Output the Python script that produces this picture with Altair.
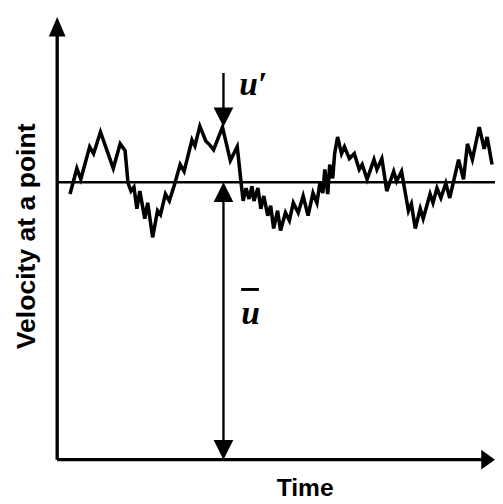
import altair as alt
import pandas as pd

# Fluctuating velocity signal (time, velocity) in arbitrary units
time = [13, 20, 24, 33, 37, 44, 57, 64, 69, 72, 75, 78, 81, 84, 89, 92, 97, 102, 105,
        110, 114, 119, 125, 129, 137, 140, 145, 151, 155, 159, 168, 176, 183, 187, 189,
        192, 195, 198, 200, 204, 207, 210, 214, 217, 220, 224, 227, 232, 236, 240, 245,
        250, 255, 260, 264, 267, 270, 272, 275, 277, 280, 282, 285, 289, 292, 297, 302,
        307, 310, 315, 322, 325, 330, 335, 342, 345, 350, 354, 357, 360, 364, 369, 372,
        379, 382, 386, 390, 395, 399, 408, 413, 417, 422, 429, 434, 437, 442]
velocity = [270, 296, 285, 318, 311, 333, 296, 321, 314, 281, 273, 277, 255, 273, 245,
            261, 226, 253, 249, 270, 263, 279, 300, 293, 325, 319, 339, 324, 320, 315,
            338, 304, 318, 281, 263, 276, 265, 278, 263, 276, 255, 268, 248, 258, 235,
            253, 233, 251, 243, 261, 251, 268, 248, 271, 261, 281, 271, 295, 270, 300,
            286, 311, 328, 311, 318, 306, 311, 295, 300, 285, 305, 295, 306, 273, 293,
            283, 293, 270, 253, 260, 235, 255, 245, 270, 261, 276, 266, 281, 266, 305,
            285, 321, 305, 338, 316, 328, 300]

mean_velocity = 282
time_end = 445
velocity_top = 450
peak_time = 169
peak_velocity = 338

X_DOM = [0, 445]
Y_DOM = [0, 450]

def xs():
    return alt.Scale(domain=X_DOM, nice=False, zero=False)

def ys():
    return alt.Scale(domain=Y_DOM, nice=False, zero=False)

def enc(ch):
    return ch.encode(
        x=alt.X("t:Q", scale=xs(), axis=None),
        y=alt.Y("v:Q", scale=ys(), axis=None),
    )

signal_df = pd.DataFrame({"t": time, "v": velocity})
signal = enc(alt.Chart(signal_df).mark_line(color="black", strokeWidth=3.6, strokeJoin="miter"))

mean_df = pd.DataFrame({"t": [0, time_end], "v": [mean_velocity, mean_velocity]})
mean_line = enc(alt.Chart(mean_df).mark_line(color="black", strokeWidth=2.6))

yaxis_df = pd.DataFrame({"t": [0, 0], "v": [0, 432]})
yaxis = enc(alt.Chart(yaxis_df).mark_line(color="black", strokeWidth=3.4))
xaxis_df = pd.DataFrame({"t": [0, 432], "v": [0, 0]})
xaxis = enc(alt.Chart(xaxis_df).mark_line(color="black", strokeWidth=3.4))

up_tri = "M-0.85,1L0,-1L0.85,1Z"
down_tri = "M-1,-1L0,1L1,-1Z"
up_tri_w = "M-1,1L0,-1L1,1Z"
right_tri = "M-0.4,-1L1,0L-0.4,1Z"

def head(t, v, shape, size=400):
    df = pd.DataFrame({"t": [t], "v": [v]})
    return enc(alt.Chart(df).mark_point(shape=shape, size=size, filled=True,
                                        color="black", opacity=1, strokeWidth=0))

y_head = head(0, velocity_top - 10, up_tri)
x_head = head(time_end - 10, 0, right_tri)

# mean velocity double arrow
ubar_df = pd.DataFrame({"t": [peak_time, peak_time], "v": [mean_velocity - 20, 20]})
ubar_line = enc(alt.Chart(ubar_df).mark_line(color="black", strokeWidth=2.4))
ubar_up = head(peak_time, mean_velocity - 10, up_tri_w)
ubar_down = head(peak_time, 10, down_tri)

# fluctuation arrow
up_df = pd.DataFrame({"t": [peak_time, peak_time], "v": [393, peak_velocity + 18]})
up_line = enc(alt.Chart(up_df).mark_line(color="black", strokeWidth=2.4))
up_head = head(peak_time, peak_velocity + 10, down_tri)

def label(t, v, text, **kw):
    df = pd.DataFrame({"t": [t], "v": [v], "s": [text]})
    return enc(alt.Chart(df).mark_text(color="black", **kw)).encode(text="s:N")

uprime = label(185, 371, "u\u2032", font="Liberation Serif", fontSize=34,
               fontWeight="bold", fontStyle="italic", align="left", baseline="alphabetic")
ubar_lbl = label(187, 138, "u", font="Liberation Serif", fontSize=34,
                 fontWeight="bold", fontStyle="italic", align="left", baseline="alphabetic")
bar_df = pd.DataFrame({"t": [187, 205], "v": [173, 173]})
bar = enc(alt.Chart(bar_df).mark_line(color="black", strokeWidth=3))

ylabel = label(-31, 227, "Velocity at a point", font="Liberation Sans", fontSize=27,
               fontWeight="bold", angle=270, align="center", baseline="middle")
xlabel = label(252, -37, "Time", font="Liberation Sans", fontSize=25,
               fontWeight="bold", align="center", baseline="alphabetic")

chart = alt.layer(
    mean_line, signal, yaxis, xaxis, y_head, x_head,
    ubar_line, ubar_up, ubar_down, up_line, up_head,
    uprime, ubar_lbl, bar, ylabel, xlabel,
).properties(
    width=445, height=450,
    padding={"left": 50, "top": 5, "right": 0, "bottom": 41},
    autosize="none",
    background="white",
).configure_view(stroke=None)

chart.save("out.html", embed_options={"renderer": "svg", "actions": False})
